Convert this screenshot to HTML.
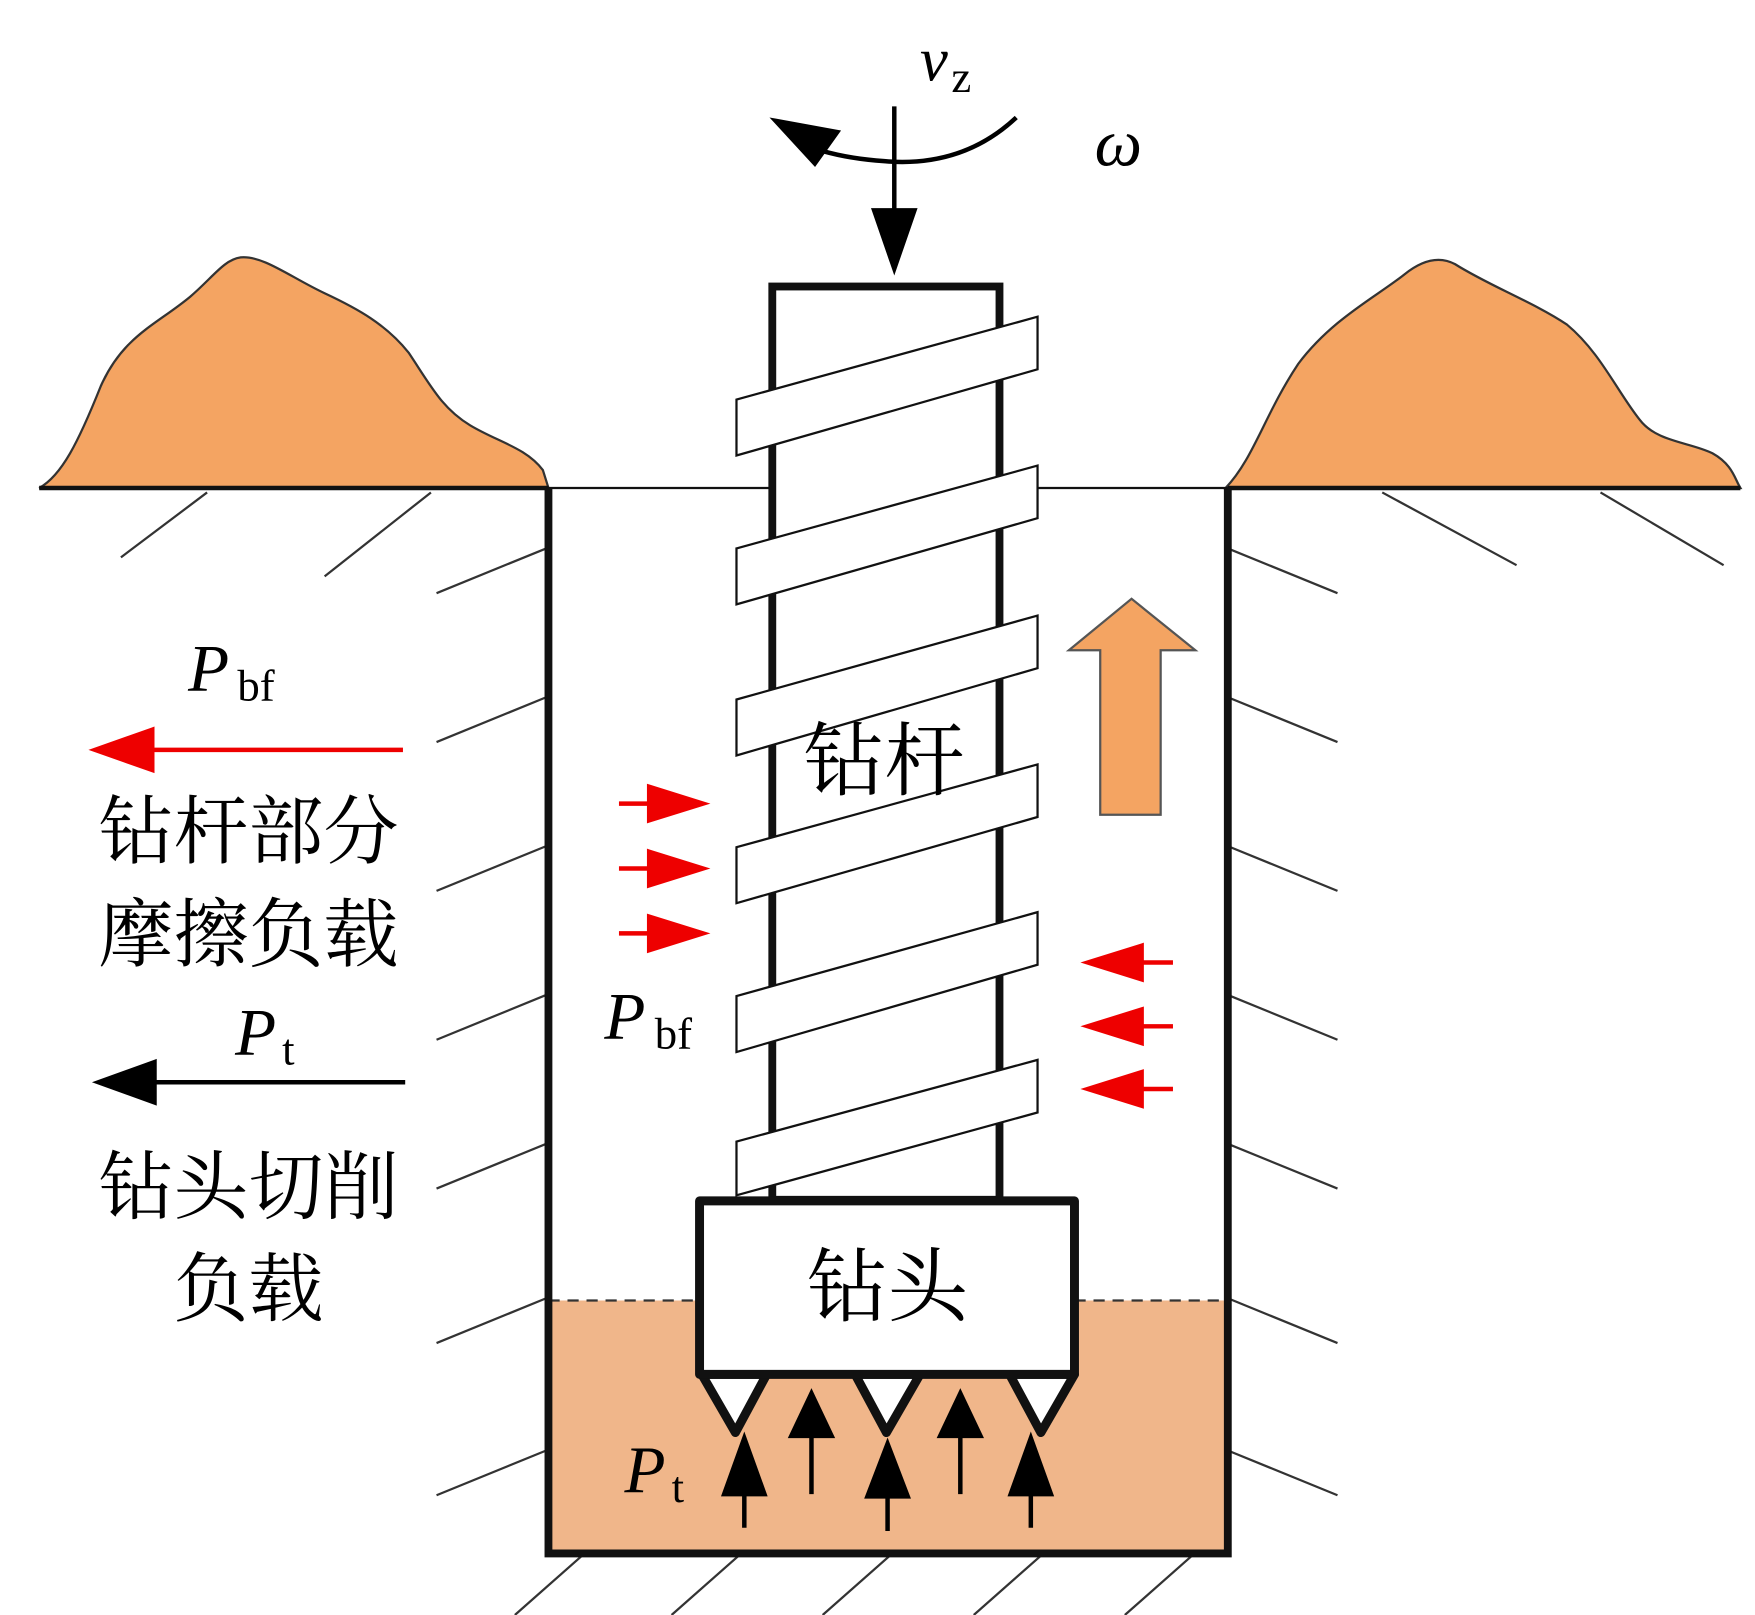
<!DOCTYPE html>
<html><head><meta charset="utf-8"><style>
html,body{margin:0;padding:0;background:#fff;}
svg{display:block;}
.it{font-family:"Liberation Serif",serif;font-style:italic;}
.sub{font-family:"Liberation Serif",serif;font-style:normal;}
.cn{font-family:"Liberation Serif","Noto Serif CJK SC",serif;}
</style></head><body>
<svg width="1755" height="1615" viewBox="0 0 1568 1443" xmlns="http://www.w3.org/2000/svg">
<defs>
<pattern id="n" width="4" height="4" patternUnits="userSpaceOnUse"><rect width="4" height="4" fill="#F0B68A"/></pattern>
</defs>
<!-- sediment -->
<rect x="490" y="1162" width="607" height="226" fill="#F0B68A"/>
<line x1="490" y1="1162" x2="625" y2="1162" stroke="#333" stroke-width="2" stroke-dasharray="10,7"/>
<line x1="960" y1="1162" x2="1097" y2="1162" stroke="#333" stroke-width="2" stroke-dasharray="10,7"/>
<!-- mounds -->
<path d="M35,436 C55,425 70,395 90,345 C110,300 140,290 170,265 C190,248 200,232 215,230 C235,228 260,248 290,262 C320,276 345,290 365,315 C385,345 395,365 420,380 C445,395 470,400 485,420 L490,436 Z" fill="#F4A462" stroke="#333" stroke-width="2"/>
<path d="M1095,436 C1120,410 1130,370 1160,325 C1190,285 1230,265 1255,245 C1270,233 1285,228 1300,236 C1330,255 1370,270 1400,290 C1430,315 1445,350 1465,375 C1480,395 1510,395 1530,405 C1548,415 1550,428 1555,436 Z" fill="#F4A462" stroke="#333" stroke-width="2"/>
<!-- ground lines -->
<line x1="35" y1="436" x2="490" y2="436" stroke="#111" stroke-width="4"/>
<line x1="490" y1="436" x2="1097" y2="436" stroke="#111" stroke-width="2"/>
<line x1="1097" y1="436" x2="1555" y2="436" stroke="#111" stroke-width="4"/>
<!-- hatching -->
<g stroke="#333" stroke-width="2">
<line x1="185" y1="440" x2="108" y2="498"/>
<line x1="385" y1="440" x2="290" y2="515"/>
<line x1="1235" y1="440" x2="1355" y2="505"/>
<line x1="1430" y1="440" x2="1540" y2="505"/>
<line x1="488" y1="490" x2="390" y2="530"/><line x1="488" y1="623" x2="390" y2="663"/><line x1="488" y1="756" x2="390" y2="796"/><line x1="488" y1="889" x2="390" y2="929"/><line x1="488" y1="1022" x2="390" y2="1062"/><line x1="488" y1="1160" x2="390" y2="1200"/><line x1="488" y1="1296" x2="390" y2="1336"/>
<line x1="1097" y1="490" x2="1195" y2="530"/><line x1="1097" y1="623" x2="1195" y2="663"/><line x1="1097" y1="756" x2="1195" y2="796"/><line x1="1097" y1="889" x2="1195" y2="929"/><line x1="1097" y1="1022" x2="1195" y2="1062"/><line x1="1097" y1="1160" x2="1195" y2="1200"/><line x1="1097" y1="1296" x2="1195" y2="1336"/>
<line x1="520" y1="1390" x2="460" y2="1443"/><line x1="660" y1="1390" x2="600" y2="1443"/><line x1="795" y1="1390" x2="735" y2="1443"/><line x1="930" y1="1390" x2="870" y2="1443"/><line x1="1065" y1="1390" x2="1005" y2="1443"/>
</g>
<!-- hole -->
<path d="M490,436 V1388 H1097 V436" fill="none" stroke="#111" stroke-width="7"/>
<!-- rod -->
<rect x="690" y="256" width="203" height="816" fill="#fff" stroke="#111" stroke-width="7"/>
<g fill="#fff" stroke="#111" stroke-width="2">
<polygon points="658,357 927,283 927,330 658,407"/>
<polygon points="658,490 927,416 927,463 658,540"/>
<polygon points="658,625 927,550 927,597 658,675"/>
<polygon points="658,757 927,683 927,730 658,807"/>
<polygon points="658,890 927,815 927,862 658,940"/>
<polygon points="658,1020 927,947 927,994 658,1068"/>
</g>
<!-- bit -->
<g stroke="#111" stroke-width="8" fill="#fff" stroke-linejoin="round">
<polygon points="627,1228 685,1228 657,1280"/>
<polygon points="764,1228 822,1228 792,1280"/>
<polygon points="902,1228 960,1228 930,1280"/>
<rect x="625" y="1073" width="335" height="155"/>
</g>
<text x="793" y="1175" text-anchor="middle" class="cn" font-size="72">钻头</text>
<text x="790" y="705" text-anchor="middle" class="cn" font-size="72">钻杆</text>
<!-- up arrows -->
<g stroke="#000" stroke-width="4" fill="#000">
<line x1="665" y1="1365" x2="665" y2="1320"/><polygon points="647,1335 683,1335 665,1285"/>
<line x1="725" y1="1335" x2="725" y2="1280"/><polygon points="707,1283 743,1283 725,1245"/>
<line x1="793" y1="1368" x2="793" y2="1320"/><polygon points="775,1337 811,1337 793,1290"/>
<line x1="858" y1="1335" x2="858" y2="1280"/><polygon points="840,1283 876,1283 858,1245"/>
<line x1="921" y1="1365" x2="921" y2="1320"/><polygon points="903,1335 939,1335 921,1285"/>
</g>
<text x="558" y="1333" class="it" font-size="60">P</text><text x="600" y="1342" class="sub" font-size="40">t</text>
<!-- orange arrow -->
<path d="M983,728 V581 H955 L1011,535 L1068,581 H1037 V728 Z" fill="#F4A462" stroke="#555" stroke-width="2"/>
<!-- red arrows -->
<g stroke="#e00" stroke-width="4" fill="#e00">
<line x1="553" y1="718" x2="595" y2="718"/><polygon points="580,703 628,718 580,733"/>
<line x1="553" y1="776" x2="595" y2="776"/><polygon points="580,761 628,776 580,791"/>
<line x1="553" y1="834" x2="595" y2="834"/><polygon points="580,819 628,834 580,849"/>
<line x1="1048" y1="860" x2="1005" y2="860"/><polygon points="1020,845 972,860 1020,875"/>
<line x1="1048" y1="917" x2="1005" y2="917"/><polygon points="1020,902 972,917 1020,932"/>
<line x1="1048" y1="973" x2="1005" y2="973"/><polygon points="1020,958 972,973 1020,988"/>
<line x1="360" y1="670" x2="120" y2="670"/><polygon points="136,652 85,670 136,688"/>
</g>
<text x="540" y="928" class="it" font-size="60">P</text><text x="585" y="937" class="sub" font-size="40">bf</text>
<text x="168" y="617" class="it" font-size="60">P</text><text x="212" y="626" class="sub" font-size="40">bf</text>
<text x="210" y="942" class="it" font-size="60">P</text><text x="252" y="951" class="sub" font-size="40">t</text>
<g stroke="#000" stroke-width="4" fill="#000">
<line x1="362" y1="967" x2="120" y2="967"/><polygon points="138,949 88,967 138,985"/>
</g>
<g class="cn" font-size="67" text-anchor="middle">
<text x="222" y="766">钻杆部分</text>
<text x="222" y="858">摩擦负载</text>
<text x="222" y="1084">钻头切削</text>
<text x="222" y="1175">负载</text>
</g>
<!-- top arrows -->
<g stroke="#000" stroke-width="4" fill="#000">
<line x1="799" y1="95" x2="799" y2="200"/><polygon points="781,188 817,188 799,240"/>
<path d="M908,105 Q860,150 790,144 Q760,142 735,135" fill="none"/>
<polygon points="693,108 748,118 728,146"/>
</g>
<text x="822" y="72" class="it" font-size="56">v</text><text x="850" y="82" class="sub" font-size="40">z</text>
<text x="978" y="148" class="it" font-size="60">ω</text>
</svg>
</body></html>
